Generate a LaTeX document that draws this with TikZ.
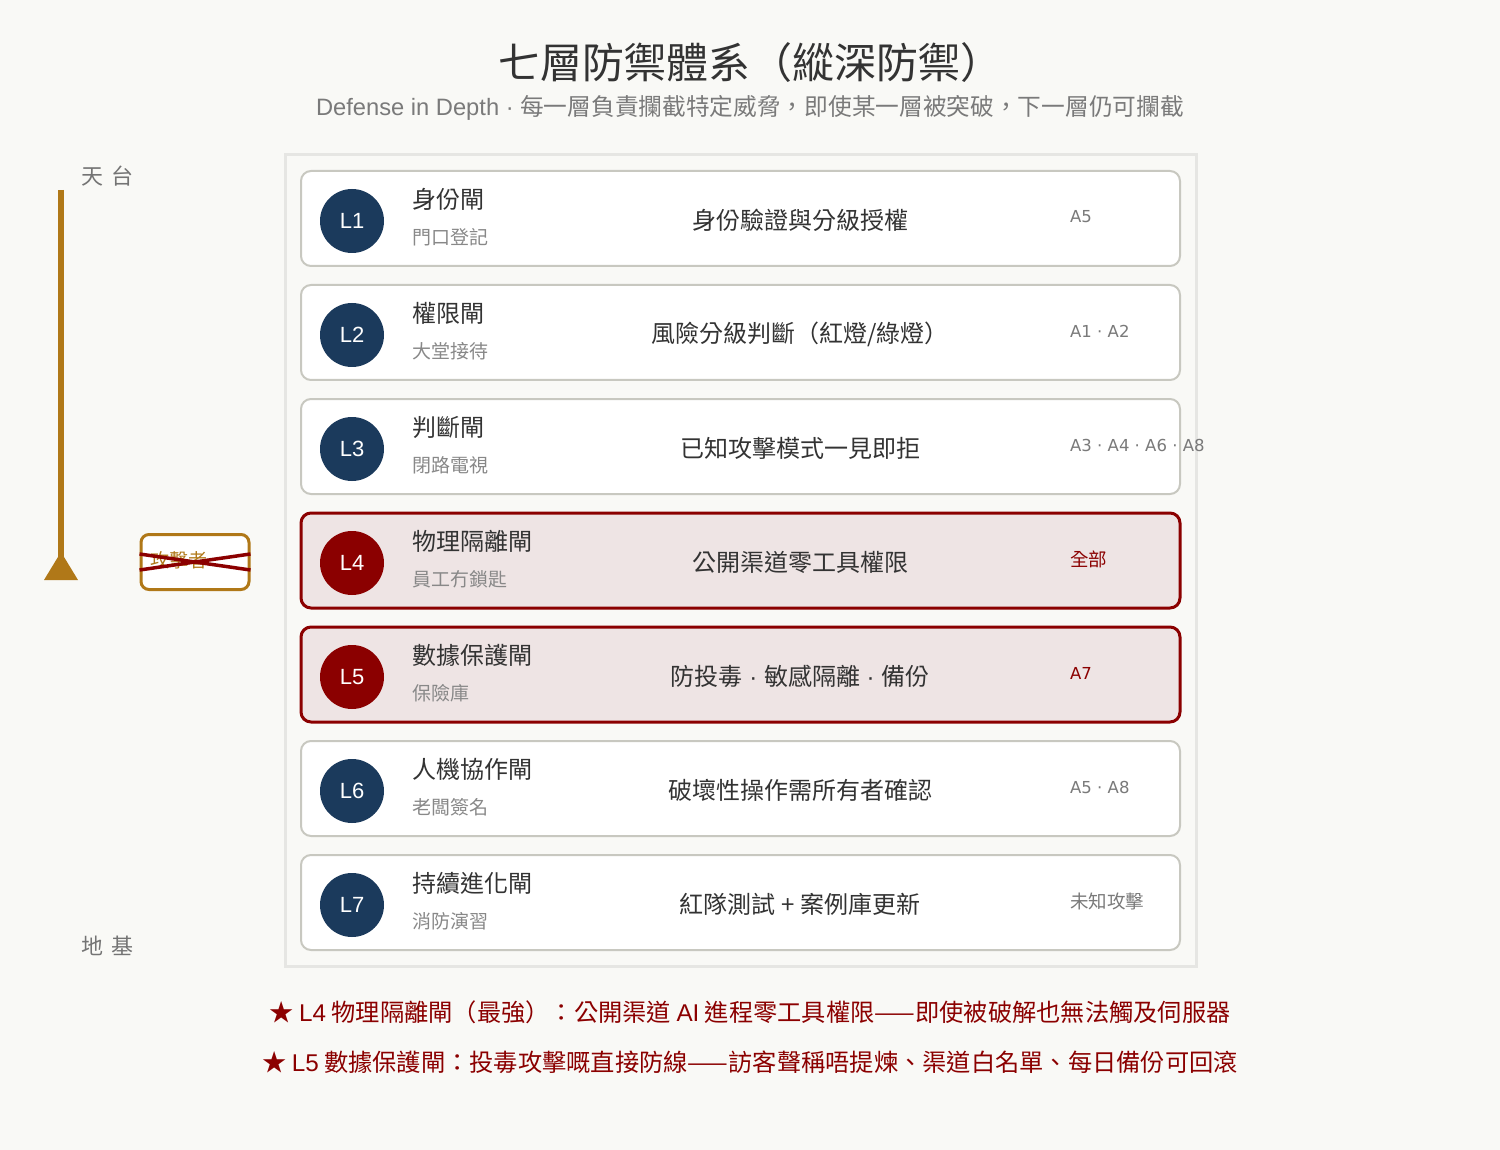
\documentclass[tikz,border=0pt]{standalone}
\usepackage{fontspec}
\usepackage{xcolor}
\usepackage{tikz}
\setmainfont{Liberation Sans}
\newfontfamily\cjk{Noto Sans CJK TC}
\newfontfamily\latin{Liberation Sans}
\newfontfamily\codefont{DejaVu Sans}
\definecolor{paper}{RGB}{249, 249, 246}
\definecolor{navy}{RGB}{27, 58, 92}
\definecolor{alertred}{RGB}{139, 0, 0}
\definecolor{alertfill}{RGB}{238, 228, 228}
\definecolor{gold}{RGB}{176, 120, 24}
\definecolor{rowgray}{RGB}{200, 200, 192}
\definecolor{panelgray}{RGB}{230, 230, 227}
\definecolor{ink}{RGB}{51, 51, 51}
\definecolor{subgray}{RGB}{136, 136, 136}
\usetikzlibrary{positioning, calc}

\begin{document}
\begin{tikzpicture}[
    x=1pt, y=-1pt,
    gatebox/.style={rectangle, draw=rowgray, line width=2pt, fill=white, rounded corners=10pt, minimum width=879pt, minimum height=95pt, outer sep=0pt},
    hotbox/.style={gatebox, draw=alertred, line width=3pt, fill=alertfill},
    badge/.style={circle, fill=navy, minimum size=64pt, inner sep=0pt, text=white, font=\latin\fontsize{22}{26}\selectfont},
    hotbadge/.style={badge, fill=alertred},
    gatename/.style={anchor=west, inner sep=0pt, text=ink, font=\cjk\fontsize{24}{28}\selectfont},
    gatesub/.style={anchor=west, inner sep=0pt, text=subgray, font=\cjk\fontsize{19}{22}\selectfont},
    gatedesc/.style={inner sep=0pt, text=ink, font=\cjk\fontsize{24}{28}\selectfont},
    threat/.style={anchor=west, inner sep=0pt, text=subgray!90!black, font=\codefont\fontsize{16.5}{20}\selectfont},
    threatcjk/.style={threat, font=\cjk\fontsize{18.5}{22}\selectfont},
    axislabel/.style={anchor=west, inner sep=0pt, text=subgray!85!black, font=\cjk\fontsize{22}{26}\selectfont},
    remark/.style={inner sep=0pt, text=alertred, font=\cjk\fontsize{24.25}{28}\selectfont}
]
    \fill[paper] (0,0) rectangle (1500,1150);

    % heading
    \node[inner sep=0pt, text=ink, font=\cjk\fontsize{42}{48}\selectfont] (headline) at (750,63) {七層防禦體系（縱深防禦）};
    \node[inner sep=0pt, text=subgray!90!black, font=\cjk\fontsize{23.7}{28}\selectfont] (subline) at (750,108) {{\latin Defense in Depth · }每一層負責攔截特定威脅，即使某一層被突破，下一層仍可攔截};

    \draw[panelgray, fill=paper, line width=3pt] (285,155) rectangle (1196,966);

    % the seven layers
    \node[gatebox] (l1) at (740.5,218.5) {};
    \node[gatebox, below=19pt of l1] (l2) {};
    \node[gatebox, below=19pt of l2] (l3) {};
    \node[hotbox, below=19pt of l3] (l4) {};
    \node[hotbox, below=19pt of l4] (l5) {};
    \node[gatebox, below=19pt of l5] (l6) {};
    \node[gatebox, below=19pt of l6] (l7) {};

    \node[badge] (b1) at ($(l1.west)+(51,2.5)$) {L1};
    \node[badge] (b2) at ($(l2.west)+(51,2.5)$) {L2};
    \node[badge] (b3) at ($(l3.west)+(51,2.5)$) {L3};
    \node[hotbadge] (b4) at ($(l4.west)+(51,2.5)$) {L4};
    \node[hotbadge] (b5) at ($(l5.west)+(51,2.5)$) {L5};
    \node[badge] (b6) at ($(l6.west)+(51,2.5)$) {L6};
    \node[badge] (b7) at ($(l7.west)+(51,2.5)$) {L7};

    \node[gatename] (n1) at ($(l1.west)+(111,-19.5)$) {身份閘};
    \node[gatename] (n2) at ($(l2.west)+(111,-19.5)$) {權限閘};
    \node[gatename] (n3) at ($(l3.west)+(111,-19.5)$) {判斷閘};
    \node[gatename] (n4) at ($(l4.west)+(111,-19.5)$) {物理隔離閘};
    \node[gatename] (n5) at ($(l5.west)+(111,-19.5)$) {數據保護閘};
    \node[gatename] (n6) at ($(l6.west)+(111,-19.5)$) {人機協作閘};
    \node[gatename] (n7) at ($(l7.west)+(111,-19.5)$) {持續進化閘};

    \node[gatesub] (s1) at ($(l1.west)+(111,18.5)$) {門口登記};
    \node[gatesub] (s2) at ($(l2.west)+(111,18.5)$) {大堂接待};
    \node[gatesub] (s3) at ($(l3.west)+(111,18.5)$) {閉路電視};
    \node[gatesub] (s4) at ($(l4.west)+(111,18.5)$) {員工冇鎖匙};
    \node[gatesub] (s5) at ($(l5.west)+(111,18.5)$) {保險庫};
    \node[gatesub] (s6) at ($(l6.west)+(111,18.5)$) {老闆簽名};
    \node[gatesub] (s7) at ($(l7.west)+(111,18.5)$) {消防演習};

    \node[gatedesc] (d1) at ($(l1)+(59.5,2)$) {身份驗證與分級授權};
    \node[gatedesc] (d2) at ($(l2)+(59.5,2)$) {風險分級判斷（紅燈/綠燈）};
    \node[gatedesc] (d3) at ($(l3)+(59.5,2)$) {已知攻擊模式一見即拒};
    \node[gatedesc] (d4) at ($(l4)+(59.5,2)$) {公開渠道零工具權限};
    \node[gatedesc] (d5) at ($(l5)+(59.5,2)$) {防投毒{\latin\ · }敏感隔離{\latin\ · }備份};
    \node[gatedesc] (d6) at ($(l6)+(59.5,2)$) {破壞性操作需所有者確認};
    \node[gatedesc] (d7) at ($(l7)+(59.5,2)$) {紅隊測試 + 案例庫更新};

    \node[threat] (t1) at ($(l1.west)+(769,-1.5)$) {A5};
    \node[threat] (t2) at ($(l2.west)+(769,-1.5)$) {A1 · A2};
    \node[threat] (t3) at ($(l3.west)+(769,-1.5)$) {A3 · A4 · A6 · A8};
    \node[threatcjk, text=alertred] (t4) at ($(l4.west)+(769,-1.5)$) {全部};
    \node[threat, text=alertred] (t5) at ($(l5.west)+(769,-1.5)$) {A7};
    \node[threat] (t6) at ($(l6.west)+(769,-1.5)$) {A5 · A8};
    \node[threatcjk] (t7) at ($(l7.west)+(769,-1.5)$) {未知攻擊};

    % height axis and the blocked attacker
    \node[axislabel] (roof) at (81,176) {天\hspace{3pt} 台};
    \node[axislabel] (ground) at (81,946) {地\hspace{3pt} 基};
    \coordinate (axistop) at (61,190);
    \coordinate (axisbase) at (61,580);
    \draw[gold, line width=6pt] (axistop) -- ($(axisbase)+(0,-20)$);
    \fill[gold] ($(axisbase)+(-17,0)$) -- ($(axisbase)+(17,0)$) -- ($(axisbase)+(0,-28)$) -- cycle;

    \node[rectangle, draw=gold, line width=3pt, fill=white, rounded corners=8pt, minimum height=55pt, text width=90pt, inner xsep=9pt, align=left, text=gold, font=\cjk\fontsize{19}{22}\selectfont] (attacker) at (195,562) {\raisebox{4pt}{攻擊者}};
    \draw[alertred, line width=3.5pt] ($(attacker.west)+(0,-8)$) -- ($(attacker.east)+(0,8)$);
    \draw[alertred, line width=3.5pt] ($(attacker.west)+(0,8)$) -- ($(attacker.east)+(0,-8)$);

    \node[remark] (note4) at (750,1012) {★ {\latin L4} 物理隔離閘（最強）：公開渠道 {\latin AI} 進程零工具權限——即使被破解也無法觸及伺服器};
    \node[remark] (note5) at (750,1062) {★ {\latin L5} 數據保護閘：投毒攻擊嘅直接防線——訪客聲稱唔提煉、渠道白名單、每日備份可回滾};
\end{tikzpicture}
\end{document}
